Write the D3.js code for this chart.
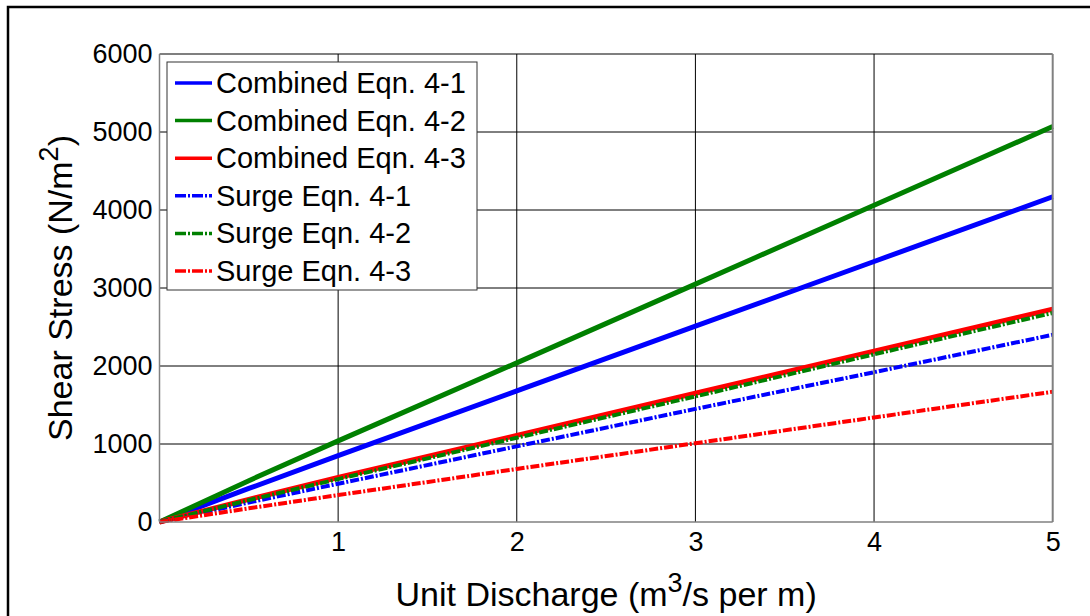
<!DOCTYPE html>
<html>
<head>
<meta charset="utf-8">
<script src="https://cdn.jsdelivr.net/npm/d3@7"></script>
<style>
  html, body { margin: 0; padding: 0; background: #fff; }
  svg { display: block; font-family: Arial, "Liberation Sans", sans-serif; }
</style>
</head>
<body>
<svg id="chart" width="1090" height="616"></svg>
<script>
// values
const discharge = [0, 0.5, 1, 2, 3, 4, 5];
const combined41 = [0, 430, 850, 1680, 2510, 3340, 4170];
const combined42 = [0, 530, 1040, 2040, 3050, 4060, 5070];
const combined43 = [0, 290, 570, 1110, 1650, 2190, 2730];
const surge41 = [0, 250, 490, 970, 1450, 1920, 2400];
const surge42 = [0, 280, 550, 1080, 1610, 2150, 2680];
const surge43 = [0, 175, 345, 680, 1010, 1340, 1670];
const xTicks = [1, 2, 3, 4, 5];
const yTicks = [0, 1000, 2000, 3000, 4000, 5000, 6000];

const series = [
    { name: "Combined Eqn. 4-1", values: combined41, color: "#0000ff", surge: false },
    { name: "Combined Eqn. 4-2", values: combined42, color: "#008000", surge: false },
    { name: "Combined Eqn. 4-3", values: combined43, color: "#ff0000", surge: false },
    { name: "Surge Eqn. 4-1", values: surge41, color: "#0000ff", surge: true },
    { name: "Surge Eqn. 4-2", values: surge42, color: "#008000", surge: true },
    { name: "Surge Eqn. 4-3", values: surge43, color: "#ff0000", surge: true }
];

const svg = d3.select("#chart");
const W = 1090, H = 616;
const m = { left: 159.5, right: W - 1052.7, top: 54, bottom: H - 522 };

const x = d3.scaleLinear().domain([0, 5]).range([m.left, W - m.right]);
const y = d3.scaleLinear().domain([0, 6000]).range([H - m.bottom, m.top]);

// outer figure border
svg.append("rect")
    .attr("x", 8).attr("y", 7)
    .attr("width", 1100).attr("height", 640)
    .attr("fill", "none")
    .attr("stroke", "#000")
    .attr("stroke-width", 2.5);

// grid
const grid = svg.append("g");
grid.selectAll("line.gx")
    .data(xTicks.slice(0, -1))
    .join("line")
    .attr("x1", d => x(d)).attr("x2", d => x(d))
    .attr("y1", y(0)).attr("y2", y(6000))
    .attr("stroke", "#000").attr("stroke-width", 1);
grid.selectAll("line.gy")
    .data(yTicks.slice(1, -1))
    .join("line")
    .attr("class", "gy")
    .attr("x1", x(0)).attr("x2", x(5))
    .attr("y1", d => y(d)).attr("y2", d => y(d))
    .attr("stroke", "#000").attr("stroke-width", 1);

// axes with tick labels
const xAxis = svg.append("g")
    .attr("transform", `translate(0,${y(0)})`)
    .call(d3.axisBottom(x).tickValues(xTicks).tickSize(0).tickPadding(10).tickFormat(d3.format("d")));
const yAxis = svg.append("g")
    .attr("transform", `translate(${x(0)},0)`)
    .call(d3.axisLeft(y).tickValues(yTicks).tickSize(0).tickPadding(7).tickFormat(d3.format("d")));
[xAxis, yAxis].forEach(g => {
    g.select(".domain").remove();
    g.selectAll("text")
        .attr("fill", "#000")
        .style("font-size", "27px")
        .style("font-family", "Arial, 'Liberation Sans', sans-serif");
});

// series lines
const line = d3.line()
    .x((d, i) => x(discharge[i]))
    .y(d => y(d));

const plot = svg.append("g");
plot.selectAll("path")
    .data(series)
    .join("path")
    .attr("d", d => line(d.values))
    .attr("fill", "none")
    .attr("stroke", d => d.color)
    .attr("stroke-width", d => d.surge ? 4 : 5)
    .attr("stroke-dasharray", d => d.surge ? "9,2,2,2" : null);

// axes box
svg.append("line")
    .attr("x1", x(0)).attr("x2", x(5)).attr("y1", y(6000)).attr("y2", y(6000))
    .attr("stroke", "#000").attr("stroke-width", 1.2);
svg.append("line")
    .attr("x1", x(0)).attr("x2", x(5)).attr("y1", y(0)).attr("y2", y(0))
    .attr("stroke", "#808080").attr("stroke-width", 1.5);
svg.append("line")
    .attr("x1", x(0)).attr("x2", x(0)).attr("y1", y(0)).attr("y2", y(6000))
    .attr("stroke", "#808080").attr("stroke-width", 1.5);
svg.append("line")
    .attr("x1", x(5)).attr("x2", x(5)).attr("y1", y(0)).attr("y2", y(6000))
    .attr("stroke", "#808080").attr("stroke-width", 2);

// axis titles
const xt = svg.append("text")
    .attr("x", (x(0) + x(5)) / 2)
    .attr("y", 606)
    .attr("text-anchor", "middle")
    .style("font-size", "34px");
xt.append("tspan").text("Unit Discharge (m");
xt.append("tspan").attr("dy", -14).style("font-size", "27px").text("3");
xt.append("tspan").attr("dy", 14).text("/s per m)");

const yt = svg.append("text")
    .attr("transform", `translate(72,${(y(0) + y(6000)) / 2}) rotate(-90)`)
    .attr("text-anchor", "middle")
    .style("font-size", "34px");
yt.append("tspan").text("Shear Stress (N/m");
yt.append("tspan").attr("dy", -14).style("font-size", "27px").text("2");
yt.append("tspan").attr("dy", 14).text(")");

// legend
const lg = svg.append("g");
lg.append("rect")
    .attr("x", 167).attr("y", 62)
    .attr("width", 310).attr("height", 228)
    .attr("fill", "#fff")
    .attr("stroke", "#333").attr("stroke-width", 1);
const rows = lg.selectAll("g.row")
    .data(series)
    .join("g")
    .attr("transform", (d, i) => `translate(0,${83 + i * 37.6})`);
rows.append("line")
    .attr("x1", 175).attr("x2", 212)
    .attr("stroke", d => d.color)
    .attr("stroke-width", 3.5)
    .attr("stroke-dasharray", d => d.surge ? "11,2,2,2" : null);
rows.append("text")
    .attr("x", 216).attr("y", 10)
    .style("font-size", "29px")
    .text(d => d.name);
</script>
</body>
</html>
